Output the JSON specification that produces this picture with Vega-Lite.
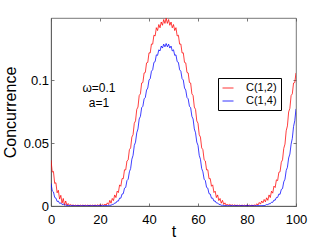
{
"$schema": "https://vega.github.io/schema/vega-lite/v6.json",
"width": 245, "height": 188,
"autosize": {"type": "none"},
"padding": {"left": 51, "top": 18, "right": 31, "bottom": 35},
"background": "white",
"config": {
  "font": "Liberation Sans",
  "view": {"stroke": "#555", "strokeWidth": 0.8},
  "axis": {"grid": false, "domainColor": "#555", "tickColor": "#555", "labelColor": "#000", "titleColor": "#000", "labelFont": "Liberation Sans", "titleFont": "Liberation Sans", "labelFontSize": 13, "titleFontSize": 16, "titleFontWeight": "normal", "tickSize": -3, "domainWidth": 0.8, "tickWidth": 0.8, "labelFlush": false}
},
"layer": [
{
"data": {"values": [
{"t":0,"r":0.0365,"b":0.018},{"t":0.5,"r":0.027,"b":0.0121},{"t":1,"r":0.0275,"b":0.0112},{"t":1.5,"r":0.018,"b":0.0068},
{"t":2,"r":0.0185,"b":0.0063},{"t":2.5,"r":0.0105,"b":0.0036},{"t":3,"r":0.0125,"b":0.0039},{"t":3.5,"r":0.0055,"b":0.0021},
{"t":4,"r":0.0085,"b":0.0024},{"t":4.5,"r":0.0023,"b":0.0012},{"t":5,"r":0.006,"b":0.0015},{"t":5.5,"r":0.0008,"b":0.0007},
{"t":6,"r":0.004,"b":0.0009},{"t":6.5,"r":0.0006,"b":0.0004},{"t":7,"r":0.002,"b":0.0005},{"t":7.5,"r":0.0005,"b":0.0003},
{"t":8,"r":0.0012,"b":0.0003},{"t":8.5,"r":0.0004,"b":0.0003},{"t":9,"r":0.0008,"b":0.0003},{"t":9.5,"r":0.0003,"b":0.0003},
{"t":10,"r":0.0007,"b":0.0003},{"t":10.5,"r":0.0003,"b":0.0003},{"t":11,"r":0.0007,"b":0.0003},{"t":11.5,"r":0.0003,"b":0.0003},
{"t":12,"r":0.0007,"b":0.0003},{"t":12.5,"r":0.0003,"b":0.0003},{"t":13,"r":0.0007,"b":0.0003},{"t":13.5,"r":0.0003,"b":0.0003},
{"t":14,"r":0.0007,"b":0.0003},{"t":14.5,"r":0.0003,"b":0.0003},{"t":15,"r":0.0007,"b":0.0003},{"t":15.5,"r":0.0003,"b":0.0003},
{"t":16,"r":0.0007,"b":0.0003},{"t":16.5,"r":0.0003,"b":0.0003},{"t":17,"r":0.0007,"b":0.0003},{"t":17.5,"r":0.0003,"b":0.0003},
{"t":18,"r":0.0008,"b":0.0003},{"t":18.5,"r":0.0003,"b":0.0003},{"t":19,"r":0.0009,"b":0.0003},{"t":19.5,"r":0.0004,"b":0.0003},
{"t":20,"r":0.001,"b":0.0003},{"t":20.5,"r":0.0004,"b":0.0003},{"t":21,"r":0.0013,"b":0.0003},{"t":21.5,"r":0.0005,"b":0.0003},
{"t":22,"r":0.0016,"b":0.0003},{"t":22.5,"r":0.0006,"b":0.0003},{"t":23,"r":0.0025,"b":0.0003},{"t":23.5,"r":0.0012,"b":0.0004},
{"t":24,"r":0.0045,"b":0.0006},{"t":24.5,"r":0.0022,"b":0.0006},{"t":25,"r":0.006,"b":0.0012},{"t":25.5,"r":0.0043,"b":0.0013},
{"t":26,"r":0.0088,"b":0.0024},{"t":26.5,"r":0.0067,"b":0.0024},{"t":27,"r":0.0118,"b":0.004},{"t":27.5,"r":0.0107,"b":0.0039},
{"t":28,"r":0.0168,"b":0.0063},{"t":28.5,"r":0.0157,"b":0.0062},{"t":29,"r":0.0218,"b":0.0095},{"t":29.5,"r":0.0217,"b":0.0098},
{"t":30,"r":0.0288,"b":0.0142},{"t":30.5,"r":0.0287,"b":0.0148},{"t":31,"r":0.0358,"b":0.0202},{"t":31.5,"r":0.0367,"b":0.0213},
{"t":32,"r":0.0448,"b":0.0272},{"t":32.5,"r":0.0462,"b":0.0298},{"t":33,"r":0.0548,"b":0.0372},{"t":33.5,"r":0.0567,"b":0.0403},
{"t":34,"r":0.0658,"b":0.0482},{"t":34.5,"r":0.0677,"b":0.0508},{"t":35,"r":0.0768,"b":0.0582},{"t":35.5,"r":0.0787,"b":0.0613},
{"t":36,"r":0.0878,"b":0.0692},{"t":36.5,"r":0.0892,"b":0.0713},{"t":37,"r":0.0978,"b":0.0782},{"t":37.5,"r":0.0982,"b":0.0793},
{"t":38,"r":0.1058,"b":0.0852},{"t":38.5,"r":0.1062,"b":0.0863},{"t":39,"r":0.1138,"b":0.0922},{"t":39.5,"r":0.1142,"b":0.0938},
{"t":40,"r":0.1218,"b":0.1002},{"t":40.5,"r":0.1217,"b":0.1013},{"t":41,"r":0.1288,"b":0.1072},{"t":41.5,"r":0.1287,"b":0.1083},
{"t":42,"r":0.1358,"b":0.1142},{"t":42.5,"r":0.1352,"b":0.1148},{"t":43,"r":0.1418,"b":0.1202},{"t":43.5,"r":0.1395,"b":0.1198},
{"t":44,"r":0.1443,"b":0.1242},{"t":44.5,"r":0.1417,"b":0.1233},{"t":45,"r":0.1463,"b":0.1272},{"t":45.5,"r":0.1437,"b":0.1256},
{"t":46,"r":0.1483,"b":0.1287},{"t":46.5,"r":0.1452,"b":0.1266},{"t":47,"r":0.1493,"b":0.1292},{"t":47.5,"r":0.1452,"b":0.1266},
{"t":48,"r":0.1483,"b":0.1287},{"t":48.5,"r":0.1437,"b":0.1256},{"t":49,"r":0.1463,"b":0.1272},{"t":49.5,"r":0.1417,"b":0.1233},
{"t":50,"r":0.1443,"b":0.1242},{"t":50.5,"r":0.1395,"b":0.1198},{"t":51,"r":0.1418,"b":0.1202},{"t":51.5,"r":0.1352,"b":0.1148},
{"t":52,"r":0.1358,"b":0.1142},{"t":52.5,"r":0.1287,"b":0.1083},{"t":53,"r":0.1288,"b":0.1072},{"t":53.5,"r":0.1217,"b":0.1013},
{"t":54,"r":0.1218,"b":0.1002},{"t":54.5,"r":0.1142,"b":0.0938},{"t":55,"r":0.1138,"b":0.0922},{"t":55.5,"r":0.1062,"b":0.0863},
{"t":56,"r":0.1058,"b":0.0852},{"t":56.5,"r":0.0982,"b":0.0793},{"t":57,"r":0.0978,"b":0.0782},{"t":57.5,"r":0.0892,"b":0.0713},
{"t":58,"r":0.0878,"b":0.0692},{"t":58.5,"r":0.0787,"b":0.0613},{"t":59,"r":0.0768,"b":0.0582},{"t":59.5,"r":0.0677,"b":0.0508},
{"t":60,"r":0.0658,"b":0.0482},{"t":60.5,"r":0.0567,"b":0.0403},{"t":61,"r":0.0548,"b":0.0372},{"t":61.5,"r":0.0462,"b":0.0298},
{"t":62,"r":0.0448,"b":0.0272},{"t":62.5,"r":0.0367,"b":0.0213},{"t":63,"r":0.0358,"b":0.0202},{"t":63.5,"r":0.0287,"b":0.0148},
{"t":64,"r":0.0288,"b":0.0142},{"t":64.5,"r":0.0217,"b":0.0098},{"t":65,"r":0.0218,"b":0.0095},{"t":65.5,"r":0.0157,"b":0.0062},
{"t":66,"r":0.0168,"b":0.0063},{"t":66.5,"r":0.0107,"b":0.0039},{"t":67,"r":0.0118,"b":0.004},{"t":67.5,"r":0.0067,"b":0.0024},
{"t":68,"r":0.0088,"b":0.0024},{"t":68.5,"r":0.0043,"b":0.0013},{"t":69,"r":0.006,"b":0.0012},{"t":69.5,"r":0.0022,"b":0.0006},
{"t":70,"r":0.0045,"b":0.0006},{"t":70.5,"r":0.0012,"b":0.0003},{"t":71,"r":0.0025,"b":0.0003},{"t":71.5,"r":0.0006,"b":0.0003},
{"t":72,"r":0.0016,"b":0.0003},{"t":72.5,"r":0.0005,"b":0.0003},{"t":73,"r":0.0013,"b":0.0003},{"t":73.5,"r":0.0004,"b":0.0003},
{"t":74,"r":0.001,"b":0.0003},{"t":74.5,"r":0.0004,"b":0.0003},{"t":75,"r":0.0009,"b":0.0003},{"t":75.5,"r":0.0003,"b":0.0003},
{"t":76,"r":0.0007,"b":0.0003},{"t":76.5,"r":0.0003,"b":0.0003},{"t":77,"r":0.0007,"b":0.0003},{"t":77.5,"r":0.0003,"b":0.0003},
{"t":78,"r":0.0007,"b":0.0003},{"t":78.5,"r":0.0003,"b":0.0003},{"t":79,"r":0.0007,"b":0.0003},{"t":79.5,"r":0.0003,"b":0.0003},
{"t":80,"r":0.0007,"b":0.0003},{"t":80.5,"r":0.0003,"b":0.0003},{"t":81,"r":0.0007,"b":0.0003},{"t":81.5,"r":0.0003,"b":0.0003},
{"t":82,"r":0.0007,"b":0.0003},{"t":82.5,"r":0.0003,"b":0.0003},{"t":83,"r":0.0008,"b":0.0003},{"t":83.5,"r":0.0004,"b":0.0003},
{"t":84,"r":0.0018,"b":0.0003},{"t":84.5,"r":0.0008,"b":0.0003},{"t":85,"r":0.0028,"b":0.0003},{"t":85.5,"r":0.0015,"b":0.0003},
{"t":86,"r":0.004,"b":0.0003},{"t":86.5,"r":0.0025,"b":0.0003},{"t":87,"r":0.0052,"b":0.0003},{"t":87.5,"r":0.0033,"b":0.0006},
{"t":88,"r":0.0065,"b":0.0012},{"t":88.5,"r":0.0045,"b":0.0011},{"t":89,"r":0.0088,"b":0.0018},{"t":89.5,"r":0.0067,"b":0.0018},
{"t":90,"r":0.0118,"b":0.003},{"t":90.5,"r":0.0102,"b":0.0029},{"t":91,"r":0.0158,"b":0.0047},{"t":91.5,"r":0.0147,"b":0.0046},
{"t":92,"r":0.0208,"b":0.0068},{"t":92.5,"r":0.0202,"b":0.0068},{"t":93,"r":0.0268,"b":0.0095},{"t":93.5,"r":0.0272,"b":0.0093},
{"t":94,"r":0.0348,"b":0.0132},{"t":94.5,"r":0.0367,"b":0.0138},{"t":95,"r":0.0458,"b":0.0192},{"t":95.5,"r":0.0492,"b":0.0213},
{"t":96,"r":0.0598,"b":0.0282},{"t":96.5,"r":0.0637,"b":0.0308},{"t":97,"r":0.0748,"b":0.0382},{"t":97.5,"r":0.0777,"b":0.0413},
{"t":98,"r":0.0878,"b":0.0492},{"t":98.5,"r":0.0892,"b":0.0538},{"t":99,"r":0.0978,"b":0.0632},{"t":99.5,"r":0.0982,"b":0.0678},
{"t":100,"r":0.1058,"b":0.0772}
]},
"transform": [{"fold": ["r", "b"], "as": ["s", "v"]}],
"mark": {"type": "line", "strokeWidth": 0.75, "clip": true},
"encoding": {
  "x": {"field": "t", "type": "quantitative", "scale": {"domain": [0, 100], "nice": false}, "axis": {"orient": "bottom", "values": [0, 20, 40, 60, 80, 100], "title": "t", "labelPadding": 10, "titlePadding": -3}},
  "y": {"field": "v", "type": "quantitative", "scale": {"domain": [0, 0.1495], "nice": false, "zero": false}, "axis": {"orient": "left", "values": [0, 0.05, 0.1], "format": "~g", "title": "Concurrence", "labelPadding": 5.5, "titlePadding": 5}},
  "color": {"field": "s", "type": "nominal", "sort": ["r", "b"], "scale": {"domain": ["r", "b"], "range": ["#ff0000", "#0000ff"]},
    "legend": {"title": null, "orient": "none", "legendX": 167, "legendY": 60, "strokeColor": "#000", "fillColor": "#fff", "padding": 4, "symbolType": "stroke", "symbolSize": 121, "symbolStrokeWidth": 0.8, "labelFontSize": 11, "labelFont": "Liberation Sans", "labelOffset": 12, "rowPadding": 2, "labelExpr": "datum.label == 'r' ? 'C(1,2)' : 'C(1,4)'"}}
}
},
{
"data": {"values": [{"t": 19.6, "v": 0.0937, "txt": "ω=0.1"}, {"t": 19.6, "v": 0.0817, "txt": "a=1"}]},
"mark": {"type": "text", "fontSize": 12, "font": "Liberation Sans", "color": "#000"},
"encoding": {
  "x": {"field": "t", "type": "quantitative", "axis": {"orient": "top", "labels": false, "title": null, "values": [0, 20, 40, 60, 80, 100], "domain": false}},
  "y": {"field": "v", "type": "quantitative", "axis": {"orient": "right", "labels": false, "title": null, "values": [0, 0.05, 0.1], "domain": false}},
  "text": {"field": "txt"}
}
}
],
"resolve": {"axis": {"x": "independent", "y": "independent"}}
}
